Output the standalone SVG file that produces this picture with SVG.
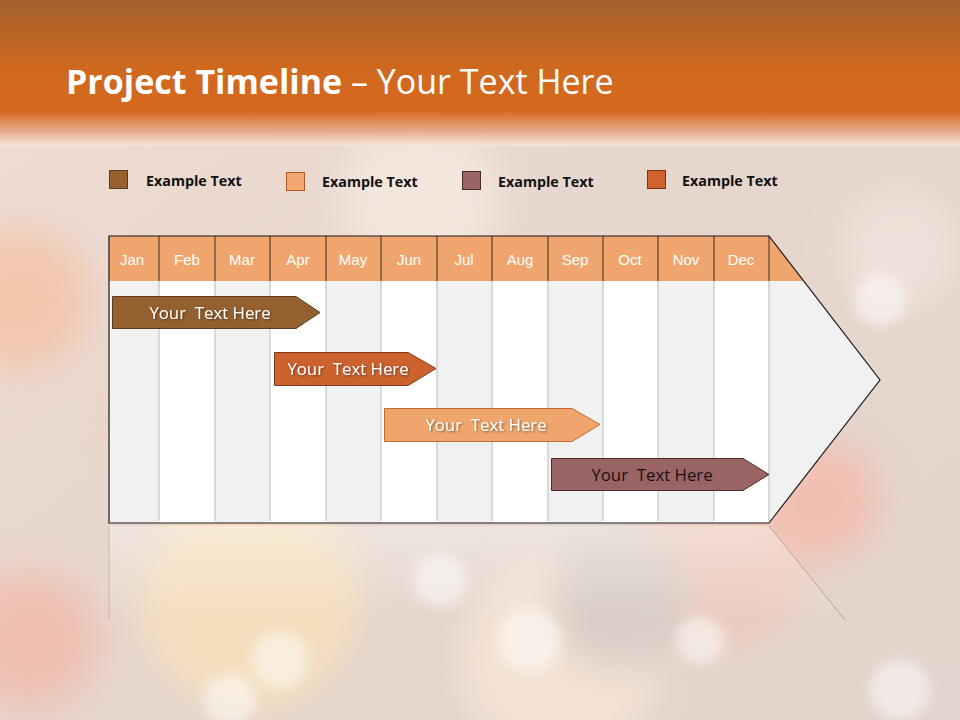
<svg xmlns="http://www.w3.org/2000/svg" width="960" height="720" viewBox="0 0 960 720">
<defs>
<linearGradient id="bgBase" x1="0" y1="0" x2="1" y2="1">
<stop offset="0" stop-color="#f0dcd2"/>
<stop offset="0.5" stop-color="#e6d6ce"/>
<stop offset="1" stop-color="#e2d4cc"/>
</linearGradient>
<linearGradient id="band" x1="0" y1="0" x2="0" y2="1">
<stop offset="0" stop-color="#a2602e"/>
<stop offset="0.45" stop-color="#cf681f"/>
<stop offset="0.76" stop-color="#d6691e"/>
<stop offset="0.9" stop-color="#e8a888" stop-opacity="0.95"/>
<stop offset="1" stop-color="#f6e6dc" stop-opacity="0.8"/>
</linearGradient>
<filter id="blur" x="-50%" y="-50%" width="200%" height="200%"><feGaussianBlur stdDeviation="18"/></filter>
<filter id="blur2" x="-50%" y="-50%" width="200%" height="200%"><feGaussianBlur stdDeviation="6"/></filter>
<filter id="tshadow" x="-10%" y="-30%" width="120%" height="160%"><feDropShadow dx="1" dy="1" stdDeviation="0.8" flood-color="#000" flood-opacity="0.5"/></filter>
<linearGradient id="refl" x1="0" y1="0" x2="0" y2="1">
<stop offset="0" stop-color="#fff" stop-opacity="0.35"/>
<stop offset="1" stop-color="#fff" stop-opacity="0"/>
</linearGradient>
<style>
.month{font-family:"Liberation Sans",Arial,sans-serif;font-size:15px;fill:#fff;text-anchor:middle}
.leg{font-family:"Open Sans","DejaVu Sans",sans-serif;font-size:14.3px;font-weight:bold;fill:#111}
.bar{font-family:"Open Sans","DejaVu Sans",sans-serif;font-size:16.8px;text-anchor:middle;white-space:pre}
.g{fill:#f1f1f1}
.w{fill:#ffffff}
.sep{stroke:#cfcfcf;stroke-width:1.5}
.hsep{stroke:#3a2a20;stroke-width:1}
</style>
</defs>
<!-- background -->
<rect x="0" y="0" width="960" height="720" fill="url(#bgBase)"/>
<g filter="url(#blur)" opacity="0.7">
<circle cx="20" cy="300" r="70" fill="#f6c0a0"/>
<circle cx="30" cy="640" r="70" fill="#f3b8a8"/>
<circle cx="250" cy="600" r="110" fill="#fbe2b8"/>
<circle cx="200" cy="420" r="80" fill="#f3c09a"/>
<circle cx="720" cy="560" r="90" fill="#f0c8b8"/>
<circle cx="820" cy="500" r="60" fill="#f8b8a8"/>
<circle cx="560" cy="660" r="100" fill="#fbe8d6"/>
<circle cx="900" cy="250" r="60" fill="#f4e4de"/>
<circle cx="420" cy="200" r="80" fill="#f6ece4"/>
<circle cx="620" cy="600" r="70" fill="#d6cbc6"/>
</g>
<g filter="url(#blur2)" fill="#fff" opacity="0.5">
<circle cx="530" cy="640" r="32"/>
<circle cx="440" cy="580" r="26"/>
<circle cx="280" cy="660" r="28"/>
<circle cx="900" cy="690" r="30"/>
<circle cx="880" cy="300" r="26"/>
<circle cx="700" cy="640" r="24"/>
<circle cx="230" cy="700" r="26"/>
</g>
<!-- title band -->
<rect x="0" y="0" width="960" height="146" fill="url(#band)"/>
<text x="66" y="94" font-family="'Open Sans','DejaVu Sans',sans-serif" font-size="34" fill="#fff"><tspan font-weight="bold">Project Timeline</tspan> – Your Text Here</text>
<!-- legend -->
<g id="legend">
<rect x="109.5" y="170.5" width="18" height="18" fill="#98602f" stroke="#5a3a1c"/>
<text class="leg" x="146" y="186">Example Text</text>
<rect x="286.5" y="172.5" width="18" height="18" fill="#f0a870" stroke="#b05a28"/>
<text class="leg" x="322" y="187">Example Text</text>
<rect x="462.5" y="171.5" width="18" height="18" fill="#9a6464" stroke="#4e2a2a"/>
<text class="leg" x="498" y="187">Example Text</text>
<rect x="647.5" y="170.5" width="18" height="18" fill="#d0622e" stroke="#7a3416"/>
<text class="leg" x="682" y="186">Example Text</text>
</g>
<!-- reflection -->
<g id="reflection">
<path d="M109,526 L769,526 L845,620 L109,620 Z" fill="url(#refl)"/>
<line x1="109" y1="526" x2="109" y2="620" stroke="#8a7a70" stroke-opacity="0.35"/>
<line x1="769" y1="526" x2="845" y2="620" stroke="#7a6a60" stroke-opacity="0.45"/>
</g>
<!-- timeline body -->
<g id="timeline">
<path d="M109,236 L769,236 L880,380 L769,523 L109,523 Z" fill="#f1f1f1"/>
<rect class="g" x="109" y="281" width="50" height="242"/>
<rect class="w" x="159" y="281" width="56" height="242"/>
<rect class="g" x="215" y="281" width="55" height="242"/>
<rect class="w" x="270" y="281" width="56" height="242"/>
<rect class="g" x="326" y="281" width="55" height="242"/>
<rect class="w" x="381" y="281" width="56" height="242"/>
<rect class="g" x="437" y="281" width="55" height="242"/>
<rect class="w" x="492" y="281" width="56" height="242"/>
<rect class="g" x="548" y="281" width="55" height="242"/>
<rect class="w" x="603" y="281" width="55" height="242"/>
<rect class="g" x="658" y="281" width="56" height="242"/>
<rect class="w" x="714" y="281" width="55" height="242"/>
<g class="sep">
<line x1="159" y1="281" x2="159" y2="521"/>
<line x1="215" y1="281" x2="215" y2="521"/>
<line x1="270" y1="281" x2="270" y2="521"/>
<line x1="326" y1="281" x2="326" y2="521"/>
<line x1="381" y1="281" x2="381" y2="521"/>
<line x1="437" y1="281" x2="437" y2="521"/>
<line x1="492" y1="281" x2="492" y2="521"/>
<line x1="548" y1="281" x2="548" y2="521"/>
<line x1="603" y1="281" x2="603" y2="521"/>
<line x1="658" y1="281" x2="658" y2="521"/>
<line x1="714" y1="281" x2="714" y2="521"/>
<line x1="769" y1="281" x2="769" y2="521"/>
</g>
<!-- header -->
<path d="M109,236 L769,236 L803.7,281 L109,281 Z" fill="#f0a56e"/>
<g class="hsep">
<line x1="159" y1="236" x2="159" y2="281"/>
<line x1="215" y1="236" x2="215" y2="281"/>
<line x1="270" y1="236" x2="270" y2="281"/>
<line x1="326" y1="236" x2="326" y2="281"/>
<line x1="381" y1="236" x2="381" y2="281"/>
<line x1="437" y1="236" x2="437" y2="281"/>
<line x1="492" y1="236" x2="492" y2="281"/>
<line x1="548" y1="236" x2="548" y2="281"/>
<line x1="603" y1="236" x2="603" y2="281"/>
<line x1="658" y1="236" x2="658" y2="281"/>
<line x1="714" y1="236" x2="714" y2="281"/>
<line x1="769" y1="236" x2="769" y2="281"/>
</g>
<text class="month" x="132" y="265">Jan</text>
<text class="month" x="187" y="265">Feb</text>
<text class="month" x="242" y="265">Mar</text>
<text class="month" x="298" y="265">Apr</text>
<text class="month" x="353" y="265">May</text>
<text class="month" x="409" y="265">Jun</text>
<text class="month" x="464" y="265">Jul</text>
<text class="month" x="520" y="265">Aug</text>
<text class="month" x="575" y="265">Sep</text>
<text class="month" x="630" y="265">Oct</text>
<text class="month" x="686" y="265">Nov</text>
<text class="month" x="741" y="265">Dec</text>
<path d="M109,236 L769,236 L880,380 L769,523 L109,523 Z" fill="none" stroke="#1a1a1a" stroke-width="1.2"/>
</g>
<!-- bars -->
<g id="bar1">
<path d="M112.5,296.5 L296,296.5 L320,312.5 L296,328.5 L112.5,328.5 Z" fill="#95602f" stroke="#5e3a1a"/>
<text class="bar" x="210" y="318.5" fill="#fff" filter="url(#tshadow)" xml:space="preserve">Your  Text Here</text>
</g>
<g id="bar2">
<path d="M274.5,352.5 L408,352.5 L436,368.5 L408,385.5 L274.5,385.5 Z" fill="#cc632f" stroke="#7e3a18"/>
<text class="bar" x="348" y="374.5" fill="#fff" filter="url(#tshadow)" xml:space="preserve">Your  Text Here</text>
</g>
<g id="bar3">
<path d="M384.5,408.5 L572,408.5 L600,424.5 L572,441.5 L384.5,441.5 Z" fill="#f0a56c" stroke="#c86a30"/>
<text class="bar" x="486" y="430.5" fill="#fff" filter="url(#tshadow)" xml:space="preserve">Your  Text Here</text>
</g>
<g id="bar4">
<path d="M551.5,458.5 L743,458.5 L769,474.5 L743,490.5 L551.5,490.5 Z" fill="#9a6464" stroke="#4e2a2a"/>
<text class="bar" x="652" y="480.5" fill="#1a1010" xml:space="preserve">Your  Text Here</text>
</g>
</svg>
